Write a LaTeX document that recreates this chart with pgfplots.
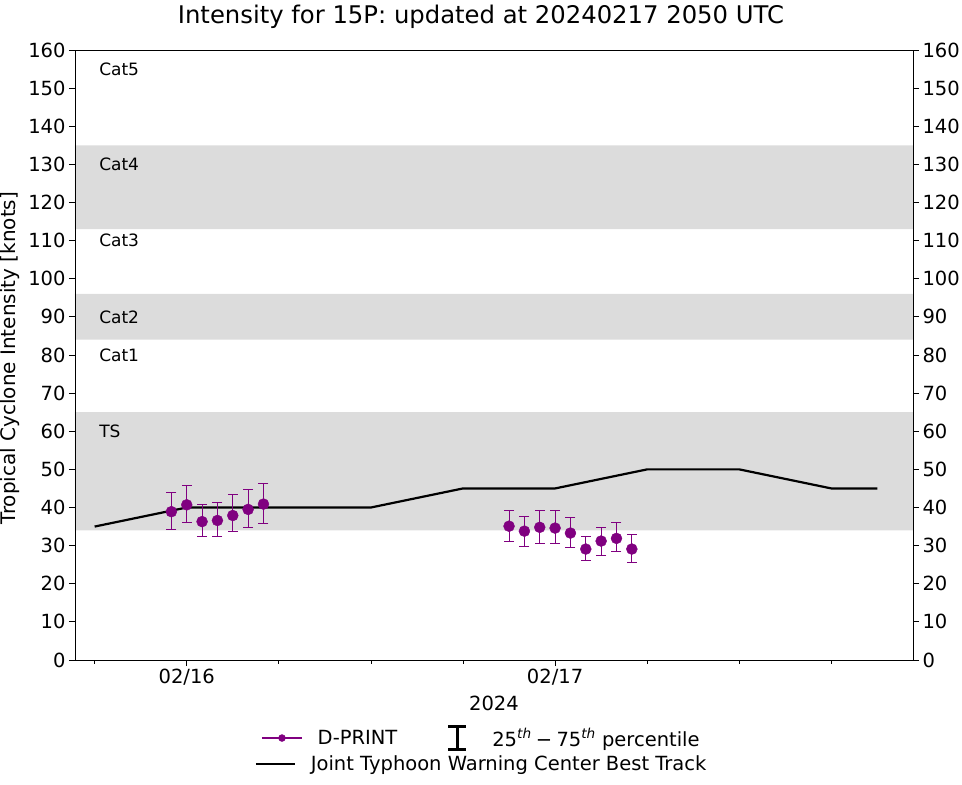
\documentclass[border=0pt]{standalone}
\usepackage{pgfplots}
\usepackage{pgfplotstable}
\pgfplotsset{compat=1.18}
\usepackage{fontspec}
\setmainfont{DejaVu Sans}
\definecolor{mplpurple}{RGB}{128,0,128}
\definecolor{band}{RGB}{220,220,220}
\newcommand{\fs}[1]{\fontsize{#1}{1.2\dimexpr#1\relax}\selectfont}
\pgfplotstableread{
t v ep em
-1 38.9 5.1 4.6
0 40.7 5.2 4.7
1 36.3 4.6 3.8
2 36.6 4.8 4.1
3 37.9 5.4 4.3
4 39.5 5.3 4.7
5 40.9 5.4 5.0
21 35.1 4.2 3.9
22 33.8 3.8 3.9
23 34.8 4.3 4.2
24 34.6 4.5 4.0
25 33.3 4.1 3.7
26 29.1 3.3 3.1
27 31.2 3.6 3.7
28 31.9 4.2 3.5
29 29.1 3.7 3.5
}\dprint
\pgfplotstableread{
t v
-6 35
0 40
6 40
12 40
18 45
24 45
30 50
36 50
42 45
45 45
}\besttrack
\begin{document}
\begin{tikzpicture}
\path[use as bounding box] (-75bp,-125bp) rectangle (887bp,660bp);
\begin{axis}[
  at={(0,0)}, anchor=south west,
  scale only axis, width=838bp, height=610bp,
  xmin=-7.28, xmax=47.32, ymin=0, ymax=160,
  xtick={0,24}, xticklabels={02/16,02/17},
  minor xtick={-6,6,12,18,30,36,42},
  ytick={0,10,...,160},
  xtick pos=bottom, ytick pos=left,
  tick align=outside,
  major tick length=6bp, minor tick length=3.5bp,
  every tick/.style={black, line width=0.8bp},
  axis line style={black, line width=0.8bp},
  axis on top,
  /pgf/number format/assume math mode=true,
  tick label style={font=\fs{19.5bp}},
  title={Intensity for 15P: updated at 20240217 2050 UTC},
  title style={font=\fs{24.3bp}, at={(axis description cs:0.4845,1.0443)}, anchor=center},
  xlabel={2024},
  xlabel style={font=\fs{19.5bp}, at={(axis description cs:0.5,-0.0705)}, anchor=center},
  ylabel={Tropical Cyclone Intensity [knots]},
  ylabel style={font=\fs{20bp}, at={(axis description cs:-0.0776,0.495)}, anchor=center, rotate=0},
  legend style={draw=none, fill=none, inner sep=0pt, at={(0.4838,-0.1279)}, anchor=center,
    font=\fs{19.5bp}, legend columns=2, nodes={inner xsep=0pt},
    /tikz/every odd column/.append style={column sep=15bp},
    /tikz/every even column/.append style={column sep=40bp}},
]
% intensity category bands
\addplot[draw=none, fill=band, forget plot] coordinates {(-7.28,34) (47.32,34) (47.32,65) (-7.28,65) (-7.28,34)};
\addplot[draw=none, fill=band, forget plot] coordinates {(-7.28,84) (47.32,84) (47.32,96) (-7.28,96) (-7.28,84)};
\addplot[draw=none, fill=band, forget plot] coordinates {(-7.28,113) (47.32,113) (47.32,135) (-7.28,135) (-7.28,113)};
\node[anchor=west, inner sep=0pt, font=\fs{17bp}] at (axis cs:-5.71,155) {Cat5};
\node[anchor=west, inner sep=0pt, font=\fs{17bp}] at (axis cs:-5.71,130) {Cat4};
\node[anchor=west, inner sep=0pt, font=\fs{17bp}] at (axis cs:-5.71,110) {Cat3};
\node[anchor=west, inner sep=0pt, font=\fs{17bp}] at (axis cs:-5.71,90) {Cat2};
\node[anchor=west, inner sep=0pt, font=\fs{17bp}] at (axis cs:-5.71,80) {Cat1};
\node[anchor=west, inner sep=0pt, font=\fs{17bp}] at (axis cs:-5.71,60) {TS};
% best track
\addplot[black, line width=2.2bp, forget plot] table[x=t, y=v] {\besttrack};
% D-PRINT error bars (25th-75th percentile)
\addplot[draw=none, mark=none, forget plot,
  error bars/.cd, y dir=both, y explicit,
  error bar style={line width=1bp, draw=mplpurple},
  error mark=none]
 table[x=t, y=v, y error plus=ep, y error minus=em] {\dprint};
% caps
\addplot[only marks, mark=-, mark size=5bp, mplpurple, mark options={line width=1bp, draw=mplpurple}, forget plot]
 table[x=t, y expr=\thisrow{v}+\thisrow{ep}] {\dprint};
\addplot[only marks, mark=-, mark size=5bp, mplpurple, mark options={line width=1bp, draw=mplpurple}, forget plot]
 table[x=t, y expr=\thisrow{v}-\thisrow{em}] {\dprint};
% D-PRINT medians
\addplot[only marks, mark=*, mark size=5.5bp, mplpurple, forget plot,
  mark options={fill=mplpurple, draw=mplpurple}]
 table[x=t, y=v] {\dprint};
\addlegendimage{legend image code/.code={\draw[mplpurple, line width=1.5bp] (0bp,0bp) -- (40bp,0bp); \fill[mplpurple] (20bp,0bp) circle (3.5bp);}}
\addlegendentry{D-PRINT}
\addlegendimage{legend image code/.code={\path[draw=none, fill=none] (0bp,-1bp) rectangle (40bp,1bp); \draw[black, line width=3.5bp] (20bp,-11.5bp) -- (20bp,11.5bp); \draw[black, line width=3bp] (11bp,11.5bp) -- (29bp,11.5bp) (11bp,-11.5bp) -- (29bp,-11.5bp);}}
\addlegendentry{25\textsuperscript{\textit{th}}\hspace{0.22em}−\hspace{0.22em}75\textsuperscript{\textit{th}} percentile}
\end{axis}
\begin{axis}[
  at={(0,0)}, anchor=south west,
  scale only axis, width=838bp, height=610bp,
  xmin=-7.28, xmax=47.32, ymin=0, ymax=160,
  hide x axis,
  axis y line*=right,
  ytick={0,10,...,160},
  tick align=outside,
  major tick length=6bp,
  every tick/.style={black, line width=0.8bp},
  axis line style={black, line width=0.8bp},
  /pgf/number format/assume math mode=true,
  tick label style={font=\fs{19.5bp}},
  legend style={draw=none, fill=none, inner sep=0pt, at={(0.4839,-0.1705)}, anchor=center,
    font=\fs{19.5bp}, nodes={inner xsep=0pt},
    /tikz/every odd column/.append style={column sep=15bp}},
]
\addlegendimage{legend image code/.code={\draw[black, line width=2.2bp] (0bp,0bp) -- (39bp,0bp);}}
\addlegendentry{Joint Typhoon Warning Center Best Track}
\end{axis}
\end{tikzpicture}
\end{document}
